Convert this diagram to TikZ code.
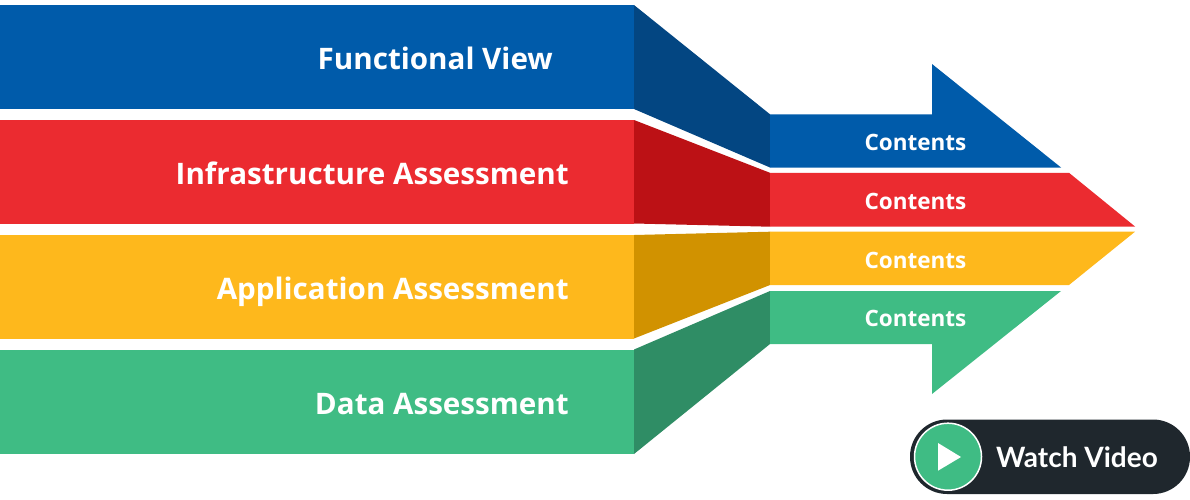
\documentclass[tikz,border=0pt]{standalone}
\usepackage{fontspec}
\setmainfont{Open Sans}
\newfontfamily\btnfont{Lato}
\definecolor{bandblue}{HTML}{005BAA}
\definecolor{bandred}{HTML}{EB2B30}
\definecolor{bandyellow}{HTML}{FEB81C}
\definecolor{bandgreen}{HTML}{3FBC84}
\definecolor{slantblue}{HTML}{034682}
\definecolor{slantred}{HTML}{BC1115}
\definecolor{slantyellow}{HTML}{D19200}
\definecolor{slantgreen}{HTML}{2F8D65}
\definecolor{btndark}{HTML}{1F272D}
\tikzset{
    bandlabel/.style={anchor=base east,text=white,font=\bfseries\fontsize{29.6}{30}\selectfont,inner sep=0pt},
    arrowlabel/.style={anchor=base,text=white,font=\bfseries\fontsize{22.5}{22.5}\selectfont,inner sep=0pt},
}
\begin{document}
\begin{tikzpicture}[x=1pt,y=-1pt]
    \useasboundingbox (0,0) rectangle (1190,499);

    \fill [bandblue] (0,5) rectangle (634,109);
    \fill [bandred] (0,120) rectangle (634,224);
    \fill [bandyellow] (0,235) rectangle (634,339);
    \fill [bandgreen] (0,349.5) rectangle (634,454);

    \fill [slantblue] (634,5) -- (770,114.3) -- (770,167.5) -- (634,109) -- cycle;
    \fill [slantred] (634,120) -- (770,172.8) -- (770,226.7) -- (634,223.5) -- cycle;
    \fill [slantyellow] (634,235) -- (770,231.7) -- (770,285) -- (634,338.5) -- cycle;
    \fill [slantgreen] (634,349.5) -- (770,291) -- (770,344) -- (634,454) -- cycle;

    \fill [bandblue] (770,114.3) -- (932,114.3) -- (932,64) -- (1061,167.5) -- (770,167.5) -- cycle;
    \fill [bandred] (770,172.8) -- (1069,172.8) -- (1135,226.5) -- (770,226.5) -- cycle;
    \fill [bandyellow] (770,231.7) -- (1135,231.7) -- (1069,285) -- (770,285) -- cycle;
    \fill [bandgreen] (770,291) -- (1061,291) -- (932,394) -- (932,344) -- (770,344) -- cycle;

    \node [bandlabel] (functional) at (553,69) {Functional View};
    \node [bandlabel] (infrastructure) at (569,184) {Infrastructure Assessment};
    \node [bandlabel] (application) at (569,299) {Application Assessment};
    \node [bandlabel] (data) at (569,414) {Data Assessment};

    \node [arrowlabel] (contentsblue) at (915.5,150) {Contents};
    \node [arrowlabel] (contentsred) at (915.5,209) {Contents};
    \node [arrowlabel] (contentsyellow) at (915.5,268) {Contents};
    \node [arrowlabel] (contentsgreen) at (915.5,326) {Contents};

    \fill [btndark,rounded corners=37pt] (910,419.5) rectangle (1190,494);
    \draw [white,line width=1.5pt,fill=bandgreen] (948,456.7) circle [radius=33.5];
    \fill [white] (938,443) -- (961,457) -- (938,470.7) -- cycle;
    \node [anchor=base west,text=white,inner sep=0pt,font=\btnfont\bfseries\fontsize{28}{28}\selectfont] (watch) at (996,467) {Watch Video};
\end{tikzpicture}
\end{document}
